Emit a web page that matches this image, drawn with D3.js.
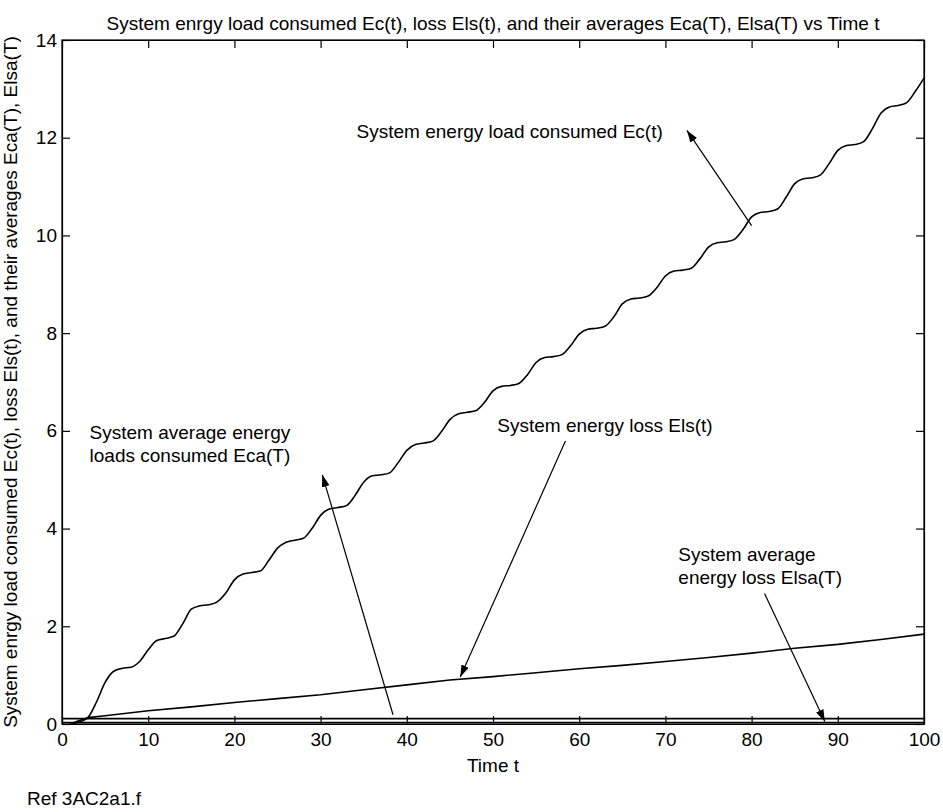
<!DOCTYPE html>
<html>
<head>
<meta charset="utf-8">
<script src="https://cdn.jsdelivr.net/npm/d3@7"></script>
<style>
  html, body { margin: 0; padding: 0; background: #fff; }
  svg text { font-family: "Liberation Sans", Arial, Helvetica, sans-serif; fill: #000; }
</style>
</head>
<body>
<svg id="chart" width="943" height="812"></svg>
<script>
// Time axis samples (integer steps)
const timeSteps = d3.range(0, 101);

// Cumulative energy load consumed Ec(t)
const ecValues = [
  0, 0, 0.04, 0.13, 0.45, 0.85, 1.08, 1.14, 1.16, 1.28,
  1.52, 1.71, 1.75, 1.80, 2.05, 2.35, 2.42, 2.44, 2.50, 2.68,
  2.95, 3.07, 3.10, 3.13, 3.35, 3.60, 3.72, 3.76, 3.80, 4.00,
  4.27, 4.40, 4.43, 4.47, 4.68, 4.95, 5.08, 5.10, 5.14, 5.35,
  5.60, 5.72, 5.75, 5.79, 5.98, 6.23, 6.35, 6.38, 6.41, 6.58,
  6.82, 6.91, 6.93, 6.97, 7.15, 7.40, 7.50, 7.52, 7.56, 7.74,
  7.98, 8.08, 8.10, 8.14, 8.33, 8.60, 8.70, 8.72, 8.76, 8.93,
  9.17, 9.27, 9.29, 9.33, 9.52, 9.76, 9.85, 9.87, 9.92, 10.12,
  10.38, 10.47, 10.49, 10.54, 10.78, 11.06, 11.16, 11.18, 11.24, 11.47,
  11.74, 11.84, 11.86, 11.92, 12.18, 12.50, 12.63, 12.66, 12.72, 12.95,
  13.22
];

// Energy loss Els(t)
const elsTimes  = [1, 2, 3, 5, 10, 15, 20, 25, 30, 35, 40, 45, 50, 55, 60, 65, 70, 75, 80, 85, 90, 95, 100];
const elsValues = [0, 0.07, 0.13, 0.17, 0.27, 0.35, 0.44, 0.52, 0.60, 0.70, 0.80, 0.90, 0.97, 1.05, 1.13, 1.20, 1.28, 1.36, 1.45, 1.55, 1.63, 1.73, 1.84];

// Averages Eca(T) and Elsa(T)
const avgTimes   = [0, 10, 20, 30, 40, 50, 60, 70, 80, 90, 100];
const ecaValues  = [0.11, 0.11, 0.11, 0.11, 0.11, 0.11, 0.11, 0.11, 0.11, 0.11, 0.11];
const elsaValues = [0.03, 0.03, 0.03, 0.03, 0.03, 0.03, 0.03, 0.03, 0.03, 0.03, 0.03];

// Axis ticks
const xTicks = [0, 10, 20, 30, 40, 50, 60, 70, 80, 90, 100];
const yTicks = [0, 2, 4, 6, 8, 10, 12, 14];

// Annotation texts: anchor (t, value), text anchor, and arrow tail -> head in data units
const notes = [
  { lines: ["System energy load consumed Ec(t)"], t: 69.7, v: 12.0, anchor: "end", from: [80.0, 10.2], to: [72.5, 12.15] },
  { lines: ["System average energy", "loads consumed Eca(T)"], t: 3.2, v: 5.83, anchor: "start", from: [38.4, 0.19], to: [30.2, 5.1] },
  { lines: ["System energy loss Els(t)"], t: 50.5, v: 5.97, anchor: "start", from: [58.4, 5.79], to: [46.2, 0.96] },
  { lines: ["System average", "energy loss Elsa(T)"], t: 71.5, v: 3.34, anchor: "start", from: [81.5, 2.67], to: [88.5, 0.05] }
];

const svg = d3.select("#chart");
const margin = { left: 62, right: 19, top: 40, bottom: 88 };
const W = 943, H = 812;
const x = d3.scaleLinear().domain([0, 100]).range([margin.left, W - margin.right]);
const y = d3.scaleLinear().domain([0, 14]).range([H - margin.bottom, margin.top]);

const fontSize = 19;

// Frame
svg.append("rect")
  .attr("x", x(0)).attr("y", y(14))
  .attr("width", x(100) - x(0)).attr("height", y(0) - y(14))
  .attr("fill", "none").attr("stroke", "#000").attr("stroke-width", 1.2);

// Axes with inward ticks
const xAxis = d3.axisBottom(x).tickValues(xTicks).tickSizeInner(-8).tickSizeOuter(0).tickPadding(9);
svg.append("g").attr("transform", `translate(0,${y(0)})`).call(xAxis);
const xAxisTop = d3.axisTop(x).tickValues(xTicks).tickSizeInner(-8).tickSizeOuter(0).tickFormat("");
svg.append("g").attr("transform", `translate(0,${y(14)})`).call(xAxisTop);

const yAxis = d3.axisLeft(y).tickValues(yTicks).tickSizeInner(-8).tickSizeOuter(0).tickPadding(5);
svg.append("g").attr("transform", `translate(${x(0)},0)`).call(yAxis);
const yAxisRight = d3.axisRight(y).tickValues(yTicks).tickSizeInner(-8).tickSizeOuter(0).tickFormat("");
svg.append("g").attr("transform", `translate(${x(100)},0)`).call(yAxisRight);

svg.selectAll(".domain").attr("stroke", "#000").attr("stroke-width", 1.2);
svg.selectAll(".tick line").attr("stroke", "#000").attr("stroke-width", 1.2);
svg.selectAll(".tick text").attr("font-size", fontSize).attr("font-family", "Liberation Sans, Arial, sans-serif");

// Series
const line = d3.line().x(d => x(d[0])).y(d => y(d[1]));
const ecLine = d3.line().x(d => x(d[0])).y(d => y(d[1])).curve(d3.curveMonotoneX);

const seriesStyle = sel => sel.attr("fill", "none").attr("stroke", "#000").attr("stroke-width", 1.6).attr("stroke-linejoin", "round");

svg.append("path").datum(timeSteps.map((t, i) => [t, ecValues[i]]).filter(d => d[0] >= 1)).attr("d", ecLine).call(seriesStyle);
svg.append("path").datum(elsTimes.map((t, i) => [t, elsValues[i]])).attr("d", line).call(seriesStyle);
svg.append("path").datum(avgTimes.map((t, i) => [t, ecaValues[i]])).attr("d", line).call(seriesStyle);
svg.append("path").datum(avgTimes.map((t, i) => [t, elsaValues[i]])).attr("d", line).call(seriesStyle);

// Arrow head marker
svg.append("defs").append("marker")
  .attr("id", "head").attr("viewBox", "0 0 12 8").attr("refX", 12).attr("refY", 4)
  .attr("markerWidth", 12).attr("markerHeight", 8).attr("markerUnits", "userSpaceOnUse")
  .attr("orient", "auto")
  .append("path").attr("d", "M0,0 L12,4 L0,8 Z").attr("fill", "#000");

// Annotations
notes.forEach(n => {
  const tx = svg.append("text").attr("x", x(n.t)).attr("y", y(n.v))
    .attr("font-size", fontSize).attr("text-anchor", n.anchor);
  n.lines.forEach((s, i) => tx.append("tspan").attr("x", x(n.t)).attr("dy", i === 0 ? 0 : 23).text(s));
  svg.append("line")
    .attr("x1", x(n.from[0])).attr("y1", y(n.from[1]))
    .attr("x2", x(n.to[0])).attr("y2", y(n.to[1]))
    .attr("stroke", "#000").attr("stroke-width", 1.2)
    .attr("marker-end", "url(#head)");
});

// Titles
svg.append("text").attr("x", (x(0) + x(100)) / 2).attr("y", 30).attr("text-anchor", "middle")
  .attr("font-size", fontSize).text("System enrgy load consumed Ec(t), loss Els(t), and their averages Eca(T), Elsa(T) vs Time t");
svg.append("text").attr("x", (x(0) + x(100)) / 2).attr("y", 772).attr("text-anchor", "middle")
  .attr("font-size", fontSize).text("Time t");
svg.append("text").attr("transform", `translate(17,${(y(0) + y(14)) / 2}) rotate(-90)`)
  .attr("text-anchor", "middle").attr("font-size", fontSize)
  .text("System enrgy load consumed Ec(t), loss Els(t), and their averages Eca(T), Elsa(T)");
svg.append("text").attr("x", 27).attr("y", 805).attr("font-size", fontSize).text("Ref 3AC2a1.f");
</script>
</body>
</html>
